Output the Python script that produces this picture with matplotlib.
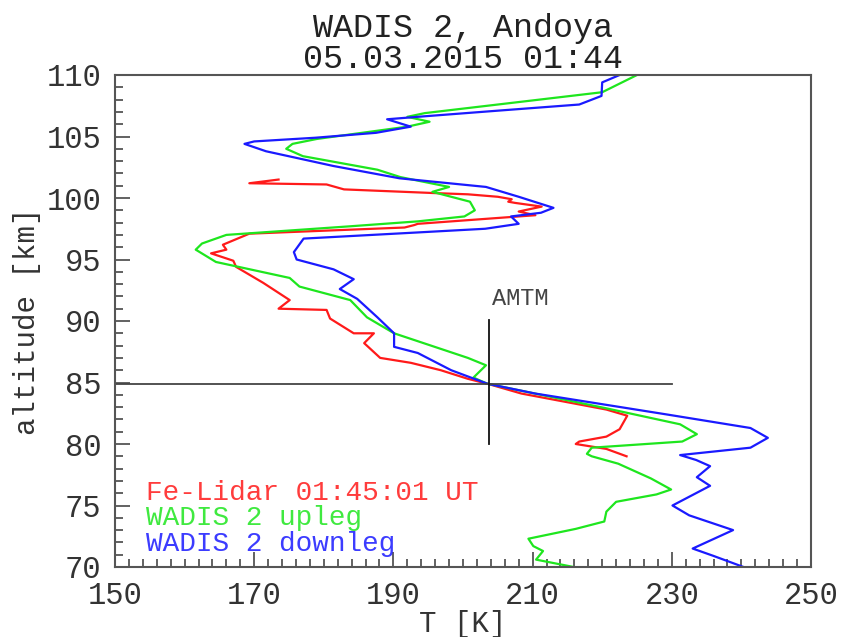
import matplotlib
matplotlib.use("Agg")
import matplotlib.pyplot as plt
from matplotlib.ticker import MultipleLocator

plt.rcParams['font.family'] = ['Liberation Mono', 'DejaVu Sans Mono']

# Fe-Lidar 01:45:01 UT  (T [K], altitude [km])
lidar_T = [173.5, 169.3, 180.4, 182.9, 195.9, 200.7, 205.0, 207.0, 206.5, 207.5,
           211.3, 208.0, 210.4, 193.5, 193.0, 191.6, 169.3, 165.5, 166.0, 163.8,
           167.0, 167.4, 171.3, 175.1, 173.5, 180.4, 180.9, 184.3, 187.2, 185.8,
           188.1, 192.5, 196.8, 200.7, 203.5, 208.4, 220.6, 223.6, 222.5, 220.6,
           216.7, 216.2, 220.6, 223.5]
lidar_alt = [101.5, 101.2, 101.1, 100.7, 100.4, 100.3, 100.1, 99.9, 99.7, 99.6,
             99.3, 98.9, 98.6, 97.9, 97.8, 97.6, 97.1, 96.2, 95.8, 95.5,
             94.9, 94.4, 93.1, 91.7, 91.0, 90.9, 90.2, 89.0, 89.0, 88.2,
             87.0, 86.6, 86.0, 85.3, 84.9, 84.1, 82.8, 82.3, 81.2, 80.6,
             80.2, 80.0, 79.6, 79.0]

# WADIS 2 upleg
up_T = [225.0, 222.5, 220.0, 208.0, 194.5, 192.0, 195.2, 192.0, 179.0, 175.5,
        174.6, 177.0, 187.7, 191.0, 198.0, 195.6, 201.0, 201.7, 200.2, 193.5,
        183.8, 166.0, 162.5, 161.6, 164.5, 175.1, 176.5, 183.8, 186.2, 190.1,
        200.7, 203.3, 201.5, 203.5, 220.6, 231.2, 233.6, 231.5, 218.5, 217.8,
        218.5, 222.3, 227.0, 229.9, 227.8, 222.0, 220.6, 220.3, 216.2, 209.4,
        210.1, 211.5, 210.5, 215.9]
up_alt = [110.0, 109.3, 108.6, 107.8, 106.9, 106.6, 106.2, 105.8, 104.8, 104.4,
          104.0, 103.4, 102.3, 101.7, 100.9, 100.5, 99.7, 99.0, 98.5, 98.1,
          97.7, 97.0, 96.3, 95.8, 94.8, 93.5, 92.8, 91.7, 90.3, 89.0,
          87.0, 86.4, 85.4, 84.9, 82.9, 81.6, 80.8, 80.2, 79.7, 79.2,
          79.0, 78.4, 77.2, 76.3, 75.9, 75.3, 74.5, 73.7, 73.1, 72.3,
          71.7, 71.3, 70.6, 70.0]

# WADIS 2 downleg
down_T = [222.5, 220.0, 219.9, 216.7, 205.0, 193.5, 189.1, 192.5, 187.5, 178.8,
          170.0, 168.6, 171.7, 181.4, 190.9, 203.3, 208.0, 213.0, 211.2, 206.9,
          208.0, 203.2, 193.5, 177.1, 175.7, 176.1, 181.4, 184.3, 182.3, 184.8,
          187.7, 190.1, 190.1, 193.5, 198.3, 203.5, 210.4, 229.3, 241.3, 243.8,
          241.3, 231.2, 233.5, 235.5, 233.6, 235.5, 230.1, 232.5, 238.8, 233.0,
          236.0, 240.3]
down_alt = [110.0, 109.4, 108.3, 107.6, 107.1, 106.6, 106.4, 105.8, 105.3, 104.9,
            104.6, 104.4, 103.8, 102.6, 101.6, 100.9, 100.1, 99.2, 98.8, 98.5,
            97.9, 97.5, 97.2, 96.7, 95.6, 95.0, 94.2, 93.4, 92.6, 91.8,
            90.3, 89.0, 87.9, 87.4, 86.0, 84.9, 84.1, 82.4, 81.3, 80.5,
            79.7, 79.1, 78.7, 78.2, 77.3, 76.6, 75.0, 74.2, 73.0, 71.5,
            70.9, 70.0]

labels = ['Fe-Lidar 01:45:01 UT', 'WADIS 2 upleg', 'WADIS 2 downleg']
colors = ['#ff1a1a', '#1ee61e', '#1a1aff']
xticks = [150, 170, 190, 210, 230, 250]

# AMTM reference point
amtm_T = 203.7
amtm_alt = 84.9

fig = plt.figure(figsize=(8.46, 6.37), dpi=100)
ax = fig.add_axes([115 / 846, 1 - 567 / 637, 696 / 846, 492 / 637])

for T, alt, c in zip([lidar_T, up_T, down_T], [lidar_alt, up_alt, down_alt], colors):
    ax.plot(T, alt, color=c, lw=1.6, solid_joinstyle='round')

# AMTM cross
ax.plot([150, 230], [amtm_alt, amtm_alt], color='#444444', lw=1.3)
ax.plot([amtm_T, amtm_T], [amtm_alt - 4.9, amtm_alt + 5.2], color='#111111', lw=1.3)
ax.text(amtm_T + 4.5, 90.9, 'AMTM', fontsize=17, color='#444444', ha='center', va='bottom')

# legend as coloured text
for i, (lab, c) in enumerate(zip(labels, colors)):
    ax.text(154.5, 76.0 - 2.05 * i, lab, fontsize=20, color=c, ha='left', va='center', alpha=0.85)

ax.set_xlim(150, 250)
ax.set_ylim(70, 110)
ax.set_xticks(xticks)
ax.xaxis.set_minor_locator(MultipleLocator(2))
ax.yaxis.set_major_locator(MultipleLocator(5))
ax.yaxis.set_minor_locator(MultipleLocator(1))
ax.tick_params(which='both', direction='in', top=False, right=False, color='#555555', width=1.3)
ax.tick_params(which='major', length=11, labelsize=22, labelcolor='#333333', pad=10)
ax.tick_params(which='minor', length=5.5)
for s in ax.spines.values():
    s.set_color('#555555')
    s.set_linewidth(1.5)

ax.set_xlabel('T [K]', fontsize=21, color='#333333', labelpad=-1)
ax.set_ylabel('altitude [km]', fontsize=21, color='#333333', labelpad=4)
ax.set_title('WADIS 2, Andoya\n05.03.2015 01:44', fontsize=24, color='#222222',
             pad=3, linespacing=1.0)

fig.savefig('out.png', dpi=100)
